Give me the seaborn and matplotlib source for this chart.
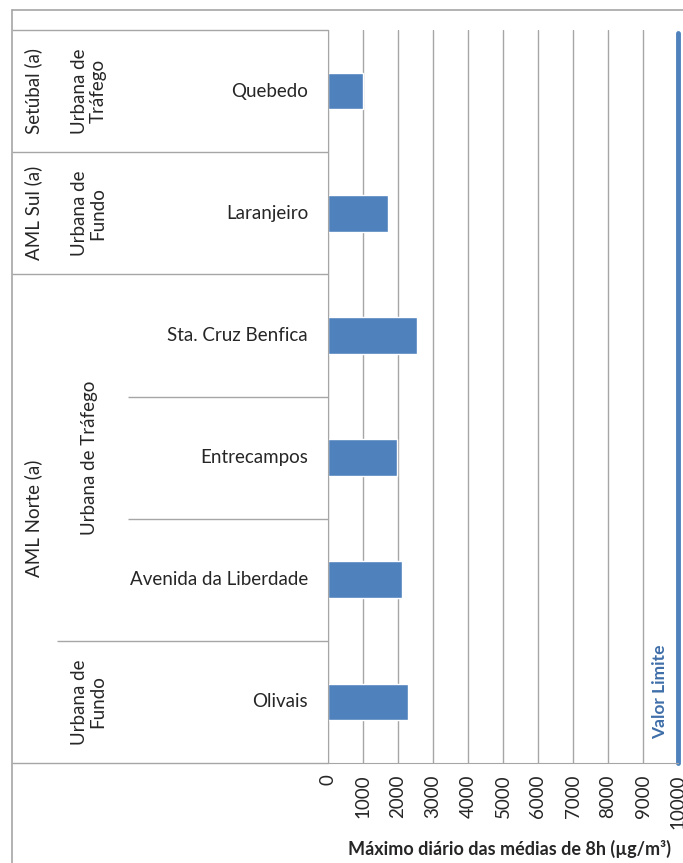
import matplotlib
matplotlib.use("Agg")
import matplotlib.pyplot as plt
from matplotlib.lines import Line2D
import seaborn as sns
import pandas as pd

# ==================== data ====================
stations = ["Quebedo", "Laranjeiro", "Sta. Cruz Benfica", "Entrecampos",
            "Avenida da Liberdade", "Olivais"]
values = [1000, 1700, 2540, 1960, 2120, 2290]
zone_types = ["Urbana de\nTráfego", "Urbana de\nFundo", "Urbana de Tráfego", "Urbana de\nFundo"]
zone_spans = [(0, 0), (1, 1), (2, 4), (5, 5)]
regions = ["Setúbal (a)", "AML Sul (a)", "AML Norte (a)"]
region_spans = [(0, 0), (1, 1), (2, 5)]
limit_value = 10000
x_ticks = list(range(0, 10001, 1000))
x_label = "Máximo diário das médias de 8h (µg/m³)"

df = pd.DataFrame({"estacao": stations, "valor": values})

# ==================== style ====================
sns.set_style("white")
plt.rcParams['font.family'] = ['Lato', 'DejaVu Sans']
blue = "#4F81BD"
grey = "#A6A6A6"
fs = 13.5

W, H = 683, 863
fig = plt.figure(figsize=(W / 100, H / 100), dpi=100)

# ==================== bars ====================
ax = fig.add_axes([328 / W, 1 - 763 / H, 350 / W, 733 / H])
sns.barplot(data=df, x="valor", y="estacao", color=blue, saturation=1,
            width=0.3, ax=ax)
ax.set_xlim(0, 10000)
ax.set_ylim(5.5, -0.5)
ax.set_xticks(x_ticks)
ax.set_xticklabels([str(t) for t in x_ticks], rotation=90, fontsize=fs)
ax.set_yticks([])
ax.set_ylabel("")
ax.set_xlabel(x_label, fontweight="bold", fontsize=13, labelpad=10)
ax.xaxis.set_label_coords(0.52, -0.105)
ax.grid(axis="x", color=grey, lw=1)
ax.set_axisbelow(True)
for s in ["top", "right"]:
    ax.spines[s].set_visible(False)
for s in ["left", "bottom"]:
    ax.spines[s].set_color(grey)
ax.tick_params(axis="x", direction="out", length=5, color=grey, pad=3)

# limit line
ax.axvline(limit_value, ymin=0, ymax=0.996, color=blue, lw=3.5, clip_on=False)
ax.text(limit_value - 520, 5.3, "Valor Limite", rotation=90, ha="center", va="bottom",
        color="#3E6EA8", fontweight="bold", fontsize=12.5)

# ==================== category table ====================
tab = fig.add_axes([12 / W, 1 - 763 / H, 316 / W, 733 / H])
tab.set_xlim(0, 316)
tab.set_ylim(5.5, -0.5)
tab.axis("off")

col_region, col_type, col_station = 0, 45, 116
region_ends = [e for _, e in region_spans]
type_ends = [e for _, e in zone_spans]
tab.hlines([-0.5, 5.5], 0, 316, color=grey, lw=1, clip_on=False)
for i in range(len(stations) - 1):
    if i in region_ends:
        x0 = col_region
    elif i in type_ends:
        x0 = col_type
    else:
        x0 = col_station
    tab.hlines(i + 0.5, x0, 316, color=grey, lw=1)

for name, (a, b) in zip(regions, region_spans):
    tab.text(21, (a + b) / 2, name, rotation=90, ha="center", va="center", fontsize=fs)
for name, (a, b) in zip(zone_types, zone_spans):
    tab.text(77, (a + b) / 2, name, rotation=90, ha="center", va="center",
             fontsize=fs, multialignment="center", linespacing=1.1)
for i, name in enumerate(stations):
    tab.text(296, i, name, ha="right", va="center", fontsize=fs)

# outer frame
fig.add_artist(Line2D([12 / W, 12 / W], [0, 1 - 10 / H], color=grey, lw=1.2,
                      transform=fig.transFigure))
fig.add_artist(Line2D([12 / W, 1], [1 - 10 / H, 1 - 10 / H], color=grey, lw=1.2,
                      transform=fig.transFigure))

fig.savefig("out.png", dpi=100, facecolor="white")
